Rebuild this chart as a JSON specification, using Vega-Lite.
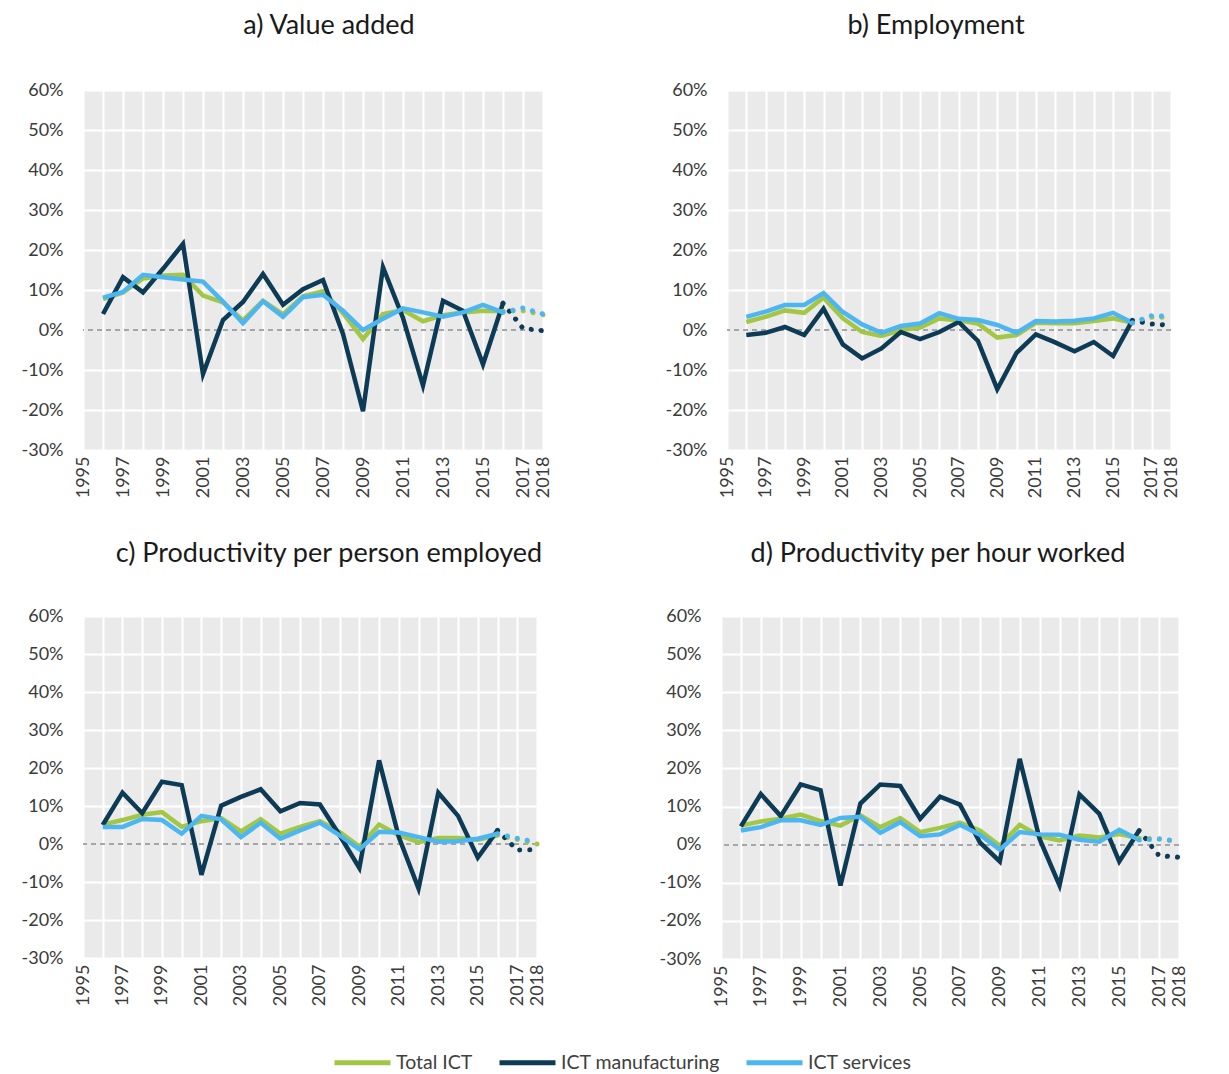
{
  "$schema": "https://vega.github.io/schema/vega-lite/v6.json",
  "padding": {"left": 21, "top": 12, "right": 10, "bottom": 4},
  "background": "white",
  "datasets": {
    "d": [
      {"p":"a","s":"Total ICT","y":1996,"v":7.75},{"p":"a","s":"Total ICT","y":1997,"v":9.4},{"p":"a","s":"Total ICT","y":1998,"v":12.9},{"p":"a","s":"Total ICT","y":1999,"v":13.6},{"p":"a","s":"Total ICT","y":2000,"v":13.8},{"p":"a","s":"Total ICT","y":2001,"v":8.6},{"p":"a","s":"Total ICT","y":2002,"v":6.9},{"p":"a","s":"Total ICT","y":2003,"v":2.4},{"p":"a","s":"Total ICT","y":2004,"v":7.3},{"p":"a","s":"Total ICT","y":2005,"v":3.9},{"p":"a","s":"Total ICT","y":2006,"v":8.4},{"p":"a","s":"Total ICT","y":2007,"v":9.7},{"p":"a","s":"Total ICT","y":2008,"v":4.2},{"p":"a","s":"Total ICT","y":2009,"v":-2.25},{"p":"a","s":"Total ICT","y":2010,"v":4.0},{"p":"a","s":"Total ICT","y":2011,"v":5.0},{"p":"a","s":"Total ICT","y":2012,"v":2.2},{"p":"a","s":"Total ICT","y":2013,"v":3.7},{"p":"a","s":"Total ICT","y":2014,"v":4.4},{"p":"a","s":"Total ICT","y":2015,"v":4.8},{"p":"a","s":"Total ICT","y":2016,"v":4.7},{"p":"a","s":"Total ICT","y":2017,"v":4.8},{"p":"a","s":"Total ICT","y":2018,"v":3.8},
      {"p":"a","s":"ICT manufacturing","y":1996,"v":4.0},{"p":"a","s":"ICT manufacturing","y":1997,"v":13.2},{"p":"a","s":"ICT manufacturing","y":1998,"v":9.4},{"p":"a","s":"ICT manufacturing","y":1999,"v":15.3},{"p":"a","s":"ICT manufacturing","y":2000,"v":21.5},{"p":"a","s":"ICT manufacturing","y":2001,"v":-11.0},{"p":"a","s":"ICT manufacturing","y":2002,"v":2.5},{"p":"a","s":"ICT manufacturing","y":2003,"v":7.0},{"p":"a","s":"ICT manufacturing","y":2004,"v":14.0},{"p":"a","s":"ICT manufacturing","y":2005,"v":6.3},{"p":"a","s":"ICT manufacturing","y":2006,"v":10.2},{"p":"a","s":"ICT manufacturing","y":2007,"v":12.5},{"p":"a","s":"ICT manufacturing","y":2008,"v":-1.0},{"p":"a","s":"ICT manufacturing","y":2009,"v":-20.3},{"p":"a","s":"ICT manufacturing","y":2010,"v":15.7},{"p":"a","s":"ICT manufacturing","y":2011,"v":3.0},{"p":"a","s":"ICT manufacturing","y":2012,"v":-13.9},{"p":"a","s":"ICT manufacturing","y":2013,"v":7.3},{"p":"a","s":"ICT manufacturing","y":2014,"v":4.8},{"p":"a","s":"ICT manufacturing","y":2015,"v":-8.6},{"p":"a","s":"ICT manufacturing","y":2016,"v":6.7},{"p":"a","s":"ICT manufacturing","y":2017,"v":0.4},{"p":"a","s":"ICT manufacturing","y":2018,"v":-0.2},
      {"p":"a","s":"ICT services","y":1996,"v":8.1},{"p":"a","s":"ICT services","y":1997,"v":9.5},{"p":"a","s":"ICT services","y":1998,"v":13.8},{"p":"a","s":"ICT services","y":1999,"v":13.2},{"p":"a","s":"ICT services","y":2000,"v":12.6},{"p":"a","s":"ICT services","y":2001,"v":12.1},{"p":"a","s":"ICT services","y":2002,"v":7.1},{"p":"a","s":"ICT services","y":2003,"v":1.7},{"p":"a","s":"ICT services","y":2004,"v":7.2},{"p":"a","s":"ICT services","y":2005,"v":3.3},{"p":"a","s":"ICT services","y":2006,"v":8.2},{"p":"a","s":"ICT services","y":2007,"v":8.8},{"p":"a","s":"ICT services","y":2008,"v":4.8},{"p":"a","s":"ICT services","y":2009,"v":0.0},{"p":"a","s":"ICT services","y":2010,"v":2.8},{"p":"a","s":"ICT services","y":2011,"v":5.4},{"p":"a","s":"ICT services","y":2012,"v":4.4},{"p":"a","s":"ICT services","y":2013,"v":3.3},{"p":"a","s":"ICT services","y":2014,"v":4.4},{"p":"a","s":"ICT services","y":2015,"v":6.3},{"p":"a","s":"ICT services","y":2016,"v":4.4},{"p":"a","s":"ICT services","y":2017,"v":5.5},{"p":"a","s":"ICT services","y":2018,"v":4.0},

      {"p":"b","s":"Total ICT","y":1996,"v":2.0},{"p":"b","s":"Total ICT","y":1997,"v":3.3},{"p":"b","s":"Total ICT","y":1998,"v":4.9},{"p":"b","s":"Total ICT","y":1999,"v":4.3},{"p":"b","s":"Total ICT","y":2000,"v":8.1},{"p":"b","s":"Total ICT","y":2001,"v":2.9},{"p":"b","s":"Total ICT","y":2002,"v":-0.5},{"p":"b","s":"Total ICT","y":2003,"v":-1.5},{"p":"b","s":"Total ICT","y":2004,"v":0.0},{"p":"b","s":"Total ICT","y":2005,"v":0.6},{"p":"b","s":"Total ICT","y":2006,"v":2.9},{"p":"b","s":"Total ICT","y":2007,"v":2.4},{"p":"b","s":"Total ICT","y":2008,"v":1.6},{"p":"b","s":"Total ICT","y":2009,"v":-1.9},{"p":"b","s":"Total ICT","y":2010,"v":-1.25},{"p":"b","s":"Total ICT","y":2011,"v":1.8},{"p":"b","s":"Total ICT","y":2012,"v":1.7},{"p":"b","s":"Total ICT","y":2013,"v":1.7},{"p":"b","s":"Total ICT","y":2014,"v":2.25},{"p":"b","s":"Total ICT","y":2015,"v":2.9},{"p":"b","s":"Total ICT","y":2016,"v":1.8},{"p":"b","s":"Total ICT","y":2017,"v":3.2},{"p":"b","s":"Total ICT","y":2018,"v":3.2},
      {"p":"b","s":"ICT manufacturing","y":1996,"v":-1.25},{"p":"b","s":"ICT manufacturing","y":1997,"v":-0.7},{"p":"b","s":"ICT manufacturing","y":1998,"v":0.75},{"p":"b","s":"ICT manufacturing","y":1999,"v":-1.25},{"p":"b","s":"ICT manufacturing","y":2000,"v":5.3},{"p":"b","s":"ICT manufacturing","y":2001,"v":-3.6},{"p":"b","s":"ICT manufacturing","y":2002,"v":-7.1},{"p":"b","s":"ICT manufacturing","y":2003,"v":-4.6},{"p":"b","s":"ICT manufacturing","y":2004,"v":-0.5},{"p":"b","s":"ICT manufacturing","y":2005,"v":-2.3},{"p":"b","s":"ICT manufacturing","y":2006,"v":-0.5},{"p":"b","s":"ICT manufacturing","y":2007,"v":2.0},{"p":"b","s":"ICT manufacturing","y":2008,"v":-2.75},{"p":"b","s":"ICT manufacturing","y":2009,"v":-14.8},{"p":"b","s":"ICT manufacturing","y":2010,"v":-5.7},{"p":"b","s":"ICT manufacturing","y":2011,"v":-1.1},{"p":"b","s":"ICT manufacturing","y":2012,"v":-3.1},{"p":"b","s":"ICT manufacturing","y":2013,"v":-5.3},{"p":"b","s":"ICT manufacturing","y":2014,"v":-3.0},{"p":"b","s":"ICT manufacturing","y":2015,"v":-6.5},{"p":"b","s":"ICT manufacturing","y":2016,"v":2.4},{"p":"b","s":"ICT manufacturing","y":2017,"v":1.5},{"p":"b","s":"ICT manufacturing","y":2018,"v":1.2},
      {"p":"b","s":"ICT services","y":1996,"v":3.3},{"p":"b","s":"ICT services","y":1997,"v":4.6},{"p":"b","s":"ICT services","y":1998,"v":6.25},{"p":"b","s":"ICT services","y":1999,"v":6.25},{"p":"b","s":"ICT services","y":2000,"v":9.2},{"p":"b","s":"ICT services","y":2001,"v":4.5},{"p":"b","s":"ICT services","y":2002,"v":1.4},{"p":"b","s":"ICT services","y":2003,"v":-0.7},{"p":"b","s":"ICT services","y":2004,"v":1.0},{"p":"b","s":"ICT services","y":2005,"v":1.6},{"p":"b","s":"ICT services","y":2006,"v":4.2},{"p":"b","s":"ICT services","y":2007,"v":2.8},{"p":"b","s":"ICT services","y":2008,"v":2.5},{"p":"b","s":"ICT services","y":2009,"v":1.25},{"p":"b","s":"ICT services","y":2010,"v":-0.7},{"p":"b","s":"ICT services","y":2011,"v":2.25},{"p":"b","s":"ICT services","y":2012,"v":2.1},{"p":"b","s":"ICT services","y":2013,"v":2.3},{"p":"b","s":"ICT services","y":2014,"v":2.9},{"p":"b","s":"ICT services","y":2015,"v":4.3},{"p":"b","s":"ICT services","y":2016,"v":1.8},{"p":"b","s":"ICT services","y":2017,"v":3.6},{"p":"b","s":"ICT services","y":2018,"v":3.4},

      {"p":"c","s":"Total ICT","y":1996,"v":5.1},{"p":"c","s":"Total ICT","y":1997,"v":6.3},{"p":"c","s":"Total ICT","y":1998,"v":7.7},{"p":"c","s":"Total ICT","y":1999,"v":8.4},{"p":"c","s":"Total ICT","y":2000,"v":4.5},{"p":"c","s":"Total ICT","y":2001,"v":6.0},{"p":"c","s":"Total ICT","y":2002,"v":6.8},{"p":"c","s":"Total ICT","y":2003,"v":3.3},{"p":"c","s":"Total ICT","y":2004,"v":6.5},{"p":"c","s":"Total ICT","y":2005,"v":2.7},{"p":"c","s":"Total ICT","y":2006,"v":4.5},{"p":"c","s":"Total ICT","y":2007,"v":6.0},{"p":"c","s":"Total ICT","y":2008,"v":3.2},{"p":"c","s":"Total ICT","y":2009,"v":-0.7},{"p":"c","s":"Total ICT","y":2010,"v":5.1},{"p":"c","s":"Total ICT","y":2011,"v":2.3},{"p":"c","s":"Total ICT","y":2012,"v":0.5},{"p":"c","s":"Total ICT","y":2013,"v":1.6},{"p":"c","s":"Total ICT","y":2014,"v":1.6},{"p":"c","s":"Total ICT","y":2015,"v":1.1},{"p":"c","s":"Total ICT","y":2016,"v":2.3},{"p":"c","s":"Total ICT","y":2017,"v":1.2},{"p":"c","s":"Total ICT","y":2018,"v":0.0},
      {"p":"c","s":"ICT manufacturing","y":1996,"v":5.0},{"p":"c","s":"ICT manufacturing","y":1997,"v":13.5},{"p":"c","s":"ICT manufacturing","y":1998,"v":8.1},{"p":"c","s":"ICT manufacturing","y":1999,"v":16.4},{"p":"c","s":"ICT manufacturing","y":2000,"v":15.5},{"p":"c","s":"ICT manufacturing","y":2001,"v":-8.1},{"p":"c","s":"ICT manufacturing","y":2002,"v":10.1},{"p":"c","s":"ICT manufacturing","y":2003,"v":12.4},{"p":"c","s":"ICT manufacturing","y":2004,"v":14.4},{"p":"c","s":"ICT manufacturing","y":2005,"v":8.6},{"p":"c","s":"ICT manufacturing","y":2006,"v":10.8},{"p":"c","s":"ICT manufacturing","y":2007,"v":10.4},{"p":"c","s":"ICT manufacturing","y":2008,"v":2.3},{"p":"c","s":"ICT manufacturing","y":2009,"v":-6.3},{"p":"c","s":"ICT manufacturing","y":2010,"v":22.0},{"p":"c","s":"ICT manufacturing","y":2011,"v":1.8},{"p":"c","s":"ICT manufacturing","y":2012,"v":-11.7},{"p":"c","s":"ICT manufacturing","y":2013,"v":13.5},{"p":"c","s":"ICT manufacturing","y":2014,"v":7.4},{"p":"c","s":"ICT manufacturing","y":2015,"v":-3.6},{"p":"c","s":"ICT manufacturing","y":2016,"v":3.6},{"p":"c","s":"ICT manufacturing","y":2017,"v":-1.6},{"p":"c","s":"ICT manufacturing","y":2018,"v":-1.5},
      {"p":"c","s":"ICT services","y":1996,"v":4.5},{"p":"c","s":"ICT services","y":1997,"v":4.5},{"p":"c","s":"ICT services","y":1998,"v":6.6},{"p":"c","s":"ICT services","y":1999,"v":6.3},{"p":"c","s":"ICT services","y":2000,"v":2.7},{"p":"c","s":"ICT services","y":2001,"v":7.4},{"p":"c","s":"ICT services","y":2002,"v":6.5},{"p":"c","s":"ICT services","y":2003,"v":1.8},{"p":"c","s":"ICT services","y":2004,"v":5.6},{"p":"c","s":"ICT services","y":2005,"v":1.4},{"p":"c","s":"ICT services","y":2006,"v":3.6},{"p":"c","s":"ICT services","y":2007,"v":5.6},{"p":"c","s":"ICT services","y":2008,"v":2.3},{"p":"c","s":"ICT services","y":2009,"v":-1.4},{"p":"c","s":"ICT services","y":2010,"v":3.2},{"p":"c","s":"ICT services","y":2011,"v":3.0},{"p":"c","s":"ICT services","y":2012,"v":1.8},{"p":"c","s":"ICT services","y":2013,"v":0.6},{"p":"c","s":"ICT services","y":2014,"v":0.7},{"p":"c","s":"ICT services","y":2015,"v":1.4},{"p":"c","s":"ICT services","y":2016,"v":2.7},{"p":"c","s":"ICT services","y":2017,"v":1.5},{"p":"c","s":"ICT services","y":2018,"v":0.5},

      {"p":"d","s":"Total ICT","y":1996,"v":5.0},{"p":"d","s":"Total ICT","y":1997,"v":6.1},{"p":"d","s":"Total ICT","y":1998,"v":6.8},{"p":"d","s":"Total ICT","y":1999,"v":7.9},{"p":"d","s":"Total ICT","y":2000,"v":6.2},{"p":"d","s":"Total ICT","y":2001,"v":5.0},{"p":"d","s":"Total ICT","y":2002,"v":7.7},{"p":"d","s":"Total ICT","y":2003,"v":4.6},{"p":"d","s":"Total ICT","y":2004,"v":7.0},{"p":"d","s":"Total ICT","y":2005,"v":3.3},{"p":"d","s":"Total ICT","y":2006,"v":4.4},{"p":"d","s":"Total ICT","y":2007,"v":5.8},{"p":"d","s":"Total ICT","y":2008,"v":3.7},{"p":"d","s":"Total ICT","y":2009,"v":-0.3},{"p":"d","s":"Total ICT","y":2010,"v":5.2},{"p":"d","s":"Total ICT","y":2011,"v":2.2},{"p":"d","s":"Total ICT","y":2012,"v":1.1},{"p":"d","s":"Total ICT","y":2013,"v":2.4},{"p":"d","s":"Total ICT","y":2014,"v":1.9},{"p":"d","s":"Total ICT","y":2015,"v":2.8},{"p":"d","s":"Total ICT","y":2016,"v":1.7},{"p":"d","s":"Total ICT","y":2017,"v":1.5},{"p":"d","s":"Total ICT","y":2018,"v":0.8},
      {"p":"d","s":"ICT manufacturing","y":1996,"v":4.8},{"p":"d","s":"ICT manufacturing","y":1997,"v":13.3},{"p":"d","s":"ICT manufacturing","y":1998,"v":7.5},{"p":"d","s":"ICT manufacturing","y":1999,"v":15.8},{"p":"d","s":"ICT manufacturing","y":2000,"v":14.3},{"p":"d","s":"ICT manufacturing","y":2001,"v":-10.7},{"p":"d","s":"ICT manufacturing","y":2002,"v":10.8},{"p":"d","s":"ICT manufacturing","y":2003,"v":15.8},{"p":"d","s":"ICT manufacturing","y":2004,"v":15.4},{"p":"d","s":"ICT manufacturing","y":2005,"v":6.8},{"p":"d","s":"ICT manufacturing","y":2006,"v":12.6},{"p":"d","s":"ICT manufacturing","y":2007,"v":10.5},{"p":"d","s":"ICT manufacturing","y":2008,"v":0.6},{"p":"d","s":"ICT manufacturing","y":2009,"v":-4.4},{"p":"d","s":"ICT manufacturing","y":2010,"v":22.5},{"p":"d","s":"ICT manufacturing","y":2011,"v":1.5},{"p":"d","s":"ICT manufacturing","y":2012,"v":-10.7},{"p":"d","s":"ICT manufacturing","y":2013,"v":13.2},{"p":"d","s":"ICT manufacturing","y":2014,"v":8.1},{"p":"d","s":"ICT manufacturing","y":2015,"v":-4.4},{"p":"d","s":"ICT manufacturing","y":2016,"v":3.7},{"p":"d","s":"ICT manufacturing","y":2017,"v":-2.9},{"p":"d","s":"ICT manufacturing","y":2018,"v":-3.3},
      {"p":"d","s":"ICT services","y":1996,"v":3.7},{"p":"d","s":"ICT services","y":1997,"v":4.6},{"p":"d","s":"ICT services","y":1998,"v":6.4},{"p":"d","s":"ICT services","y":1999,"v":6.4},{"p":"d","s":"ICT services","y":2000,"v":5.2},{"p":"d","s":"ICT services","y":2001,"v":7.0},{"p":"d","s":"ICT services","y":2002,"v":7.3},{"p":"d","s":"ICT services","y":2003,"v":3.1},{"p":"d","s":"ICT services","y":2004,"v":5.9},{"p":"d","s":"ICT services","y":2005,"v":2.2},{"p":"d","s":"ICT services","y":2006,"v":2.7},{"p":"d","s":"ICT services","y":2007,"v":5.2},{"p":"d","s":"ICT services","y":2008,"v":2.6},{"p":"d","s":"ICT services","y":2009,"v":-1.3},{"p":"d","s":"ICT services","y":2010,"v":3.3},{"p":"d","s":"ICT services","y":2011,"v":2.7},{"p":"d","s":"ICT services","y":2012,"v":2.6},{"p":"d","s":"ICT services","y":2013,"v":1.3},{"p":"d","s":"ICT services","y":2014,"v":0.8},{"p":"d","s":"ICT services","y":2015,"v":3.9},{"p":"d","s":"ICT services","y":2016,"v":1.2},{"p":"d","s":"ICT services","y":2017,"v":1.5},{"p":"d","s":"ICT services","y":2018,"v":0.9}
    ]
  },
  "vconcat": [
    {
      "spacing": 112,
      "hconcat": [
        {
          "title": {"text": "a) Value added", "offset": 41, "dx": 16},
          "width": 460, "height": 360,
          "data": {"name": "d"},
          "transform": [{"filter": "datum.p == 'a'"}],
          "encoding": {
            "x": {"field": "y", "type": "quantitative", "scale": {"domain": [1995, 2018], "nice": false, "zero": false}, "axis": {"values": [1995,1996,1997,1998,1999,2000,2001,2002,2003,2004,2005,2006,2007,2008,2009,2010,2011,2012,2013,2014,2015,2016,2017,2018], "labelExpr": "(datum.value % 2 == 1 || datum.value == 2018) ? datum.label : ''", "format": "d", "labelAngle": -90, "labelOverlap": false, "labelPadding": 6}},
            "y": {"field": "v", "type": "quantitative", "scale": {"domain": [-30, 60], "nice": false}, "axis": {"values": [-30,-20,-10,0,10,20,30,40,50,60], "labelExpr": "datum.value + '%'", "labelPadding": 20, "gridColor": {"condition": {"test": "datum.value === 0", "value": "rgba(0,0,0,0)"}, "value": "white"}}}
          },
          "layer": [
            {"mark": {"type": "rule", "stroke": "#A6A6A6", "strokeDash": [5, 4], "strokeWidth": 1.2}, "encoding": {"x": null, "y": {"datum": 0}}},
            {"transform": [{"filter": "datum.y <= 2016"}], "mark": {"type": "line", "strokeWidth": 4.5}, "encoding": {"color": {"field": "s", "type": "nominal", "scale": {"domain": ["Total ICT", "ICT manufacturing", "ICT services"], "range": ["#A3C644", "#0D3B56", "#4DB6F0"]}, "legend": {"orient": "none", "legendX": 249, "legendY": 942, "direction": "horizontal", "title": null}}}},
            {"transform": [{"filter": "datum.y >= 2016"}], "mark": {"type": "line", "strokeWidth": 5, "strokeDash": [0.1, 10], "strokeCap": "round"}, "encoding": {"color": {"field": "s", "type": "nominal"}}}
          ]
        },
        {
          "title": {"text": "b) Employment", "offset": 41, "dx": -13},
          "width": 444, "height": 360,
          "data": {"name": "d"},
          "transform": [{"filter": "datum.p == 'b'"}],
          "encoding": {
            "x": {"field": "y", "type": "quantitative", "scale": {"domain": [1995, 2018], "nice": false, "zero": false}, "axis": {"values": [1995,1996,1997,1998,1999,2000,2001,2002,2003,2004,2005,2006,2007,2008,2009,2010,2011,2012,2013,2014,2015,2016,2017,2018], "labelExpr": "(datum.value % 2 == 1 || datum.value == 2018) ? datum.label : ''", "format": "d", "labelAngle": -90, "labelOverlap": false, "labelPadding": 6}},
            "y": {"field": "v", "type": "quantitative", "scale": {"domain": [-30, 60], "nice": false}, "axis": {"values": [-30,-20,-10,0,10,20,30,40,50,60], "labelExpr": "datum.value + '%'", "labelPadding": 20, "gridColor": {"condition": {"test": "datum.value === 0", "value": "rgba(0,0,0,0)"}, "value": "white"}}}
          },
          "layer": [
            {"mark": {"type": "rule", "stroke": "#A6A6A6", "strokeDash": [5, 4], "strokeWidth": 1.2}, "encoding": {"x": null, "y": {"datum": 0}}},
            {"transform": [{"filter": "datum.y <= 2016"}], "mark": {"type": "line", "strokeWidth": 4.5}, "encoding": {"color": {"field": "s", "type": "nominal"}}},
            {"transform": [{"filter": "datum.y >= 2016"}], "mark": {"type": "line", "strokeWidth": 5, "strokeDash": [0.1, 10], "strokeCap": "round"}, "encoding": {"color": {"field": "s", "type": "nominal"}}}
          ]
        }
      ]
    },
    {
      "spacing": 112,
      "hconcat": [
        {
          "title": {"text": "c) Productivity per person employed", "offset": 39, "dx": 19},
          "width": 454, "height": 342,
          "data": {"name": "d"},
          "transform": [{"filter": "datum.p == 'c'"}],
          "encoding": {
            "x": {"field": "y", "type": "quantitative", "scale": {"domain": [1995, 2018], "nice": false, "zero": false}, "axis": {"values": [1995,1996,1997,1998,1999,2000,2001,2002,2003,2004,2005,2006,2007,2008,2009,2010,2011,2012,2013,2014,2015,2016,2017,2018], "labelExpr": "(datum.value % 2 == 1 || datum.value == 2018) ? datum.label : ''", "format": "d", "labelAngle": -90, "labelOverlap": false, "labelPadding": 6}},
            "y": {"field": "v", "type": "quantitative", "scale": {"domain": [-30, 60], "nice": false}, "axis": {"values": [-30,-20,-10,0,10,20,30,40,50,60], "labelExpr": "datum.value + '%'", "labelPadding": 20, "gridColor": {"condition": {"test": "datum.value === 0", "value": "rgba(0,0,0,0)"}, "value": "white"}}}
          },
          "layer": [
            {"mark": {"type": "rule", "stroke": "#A6A6A6", "strokeDash": [5, 4], "strokeWidth": 1.2}, "encoding": {"x": null, "y": {"datum": 0}}},
            {"transform": [{"filter": "datum.y <= 2016"}], "mark": {"type": "line", "strokeWidth": 4.5}, "encoding": {"color": {"field": "s", "type": "nominal"}}},
            {"transform": [{"filter": "datum.y >= 2016"}], "mark": {"type": "line", "strokeWidth": 5, "strokeDash": [0.1, 10], "strokeCap": "round"}, "encoding": {"color": {"field": "s", "type": "nominal"}}}
          ]
        },
        {
          "title": {"text": "d) Productivity per hour worked", "offset": 39, "dx": -12},
          "width": 458, "height": 343,
          "data": {"name": "d"},
          "transform": [{"filter": "datum.p == 'd'"}],
          "encoding": {
            "x": {"field": "y", "type": "quantitative", "scale": {"domain": [1995, 2018], "nice": false, "zero": false}, "axis": {"values": [1995,1996,1997,1998,1999,2000,2001,2002,2003,2004,2005,2006,2007,2008,2009,2010,2011,2012,2013,2014,2015,2016,2017,2018], "labelExpr": "(datum.value % 2 == 1 || datum.value == 2018) ? datum.label : ''", "format": "d", "labelAngle": -90, "labelOverlap": false, "labelPadding": 6}},
            "y": {"field": "v", "type": "quantitative", "scale": {"domain": [-30, 60], "nice": false}, "axis": {"values": [-30,-20,-10,0,10,20,30,40,50,60], "labelExpr": "datum.value + '%'", "labelPadding": 20, "gridColor": {"condition": {"test": "datum.value === 0", "value": "rgba(0,0,0,0)"}, "value": "white"}}}
          },
          "layer": [
            {"mark": {"type": "rule", "stroke": "#A6A6A6", "strokeDash": [5, 4], "strokeWidth": 1.2}, "encoding": {"x": null, "y": {"datum": 0}}},
            {"transform": [{"filter": "datum.y <= 2016"}], "mark": {"type": "line", "strokeWidth": 4.5}, "encoding": {"color": {"field": "s", "type": "nominal"}}},
            {"transform": [{"filter": "datum.y >= 2016"}], "mark": {"type": "line", "strokeWidth": 5, "strokeDash": [0.1, 10], "strokeCap": "round"}, "encoding": {"color": {"field": "s", "type": "nominal"}}}
          ]
        }
      ]
    }
  ],
  "spacing": 42,
  "config": {
    "font": "Lato",
    "view": {"fill": "#EAEAEA", "stroke": null},
    "axis": {"grid": true, "gridColor": "white", "gridWidth": 2, "domain": false, "ticks": false, "labelFont": "Lato", "labelFontSize": 18, "labelColor": "#3a3a3a", "title": null},
    "title": {"font": "Lato", "fontSize": 27, "fontWeight": "normal", "color": "#1a1a1a", "anchor": "middle"},
    "legend": {"symbolType": "stroke", "symbolSize": 3136, "symbolStrokeWidth": 5, "symbolDash": [1, 0], "labelFont": "Lato", "labelFontSize": 19.5, "labelColor": "#404040", "columnPadding": 16, "labelOffset": 3, "padding": 0}
  }
}
